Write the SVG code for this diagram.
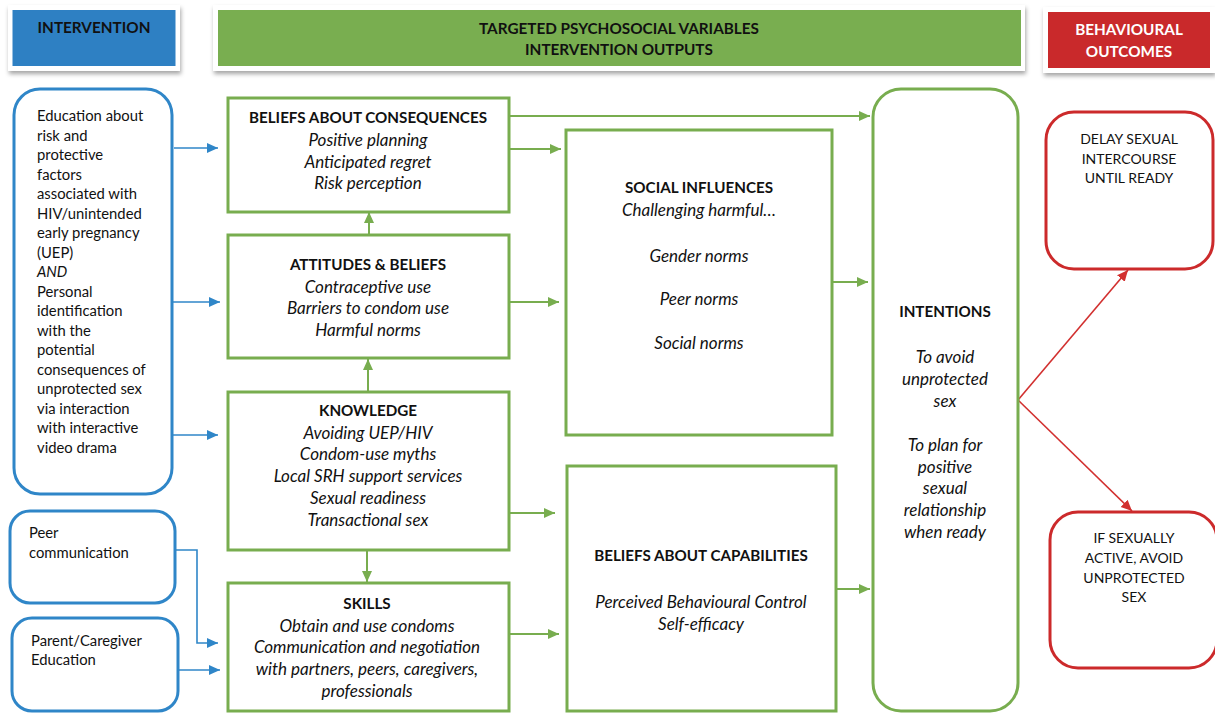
<svg xmlns="http://www.w3.org/2000/svg" width="1215" height="713" viewBox="0 0 1215 713">
<style>
text{font-family:Lato,"Open Sans","Liberation Sans",sans-serif;fill:#111;}
.b{font-weight:bold;font-size:15.2px;text-anchor:middle;}
.i{font-style:italic;font-size:17px;text-anchor:middle;}
.l{font-size:14.8px;}
.c{font-size:14px;text-anchor:middle;}
.h{font-weight:bold;font-size:15.3px;text-anchor:middle;}
.card{fill:#fff;filter:url(#sh);}
.gbox{fill:#fff;stroke:#78ad4f;stroke-width:3;}
.bbox{fill:#fff;stroke:#2f86c8;stroke-width:3;}
.rbox{fill:#fff;stroke:#cc2a2b;stroke-width:3;}
.ga{fill:none;stroke:#78ad4f;stroke-width:2;marker-end:url(#ag);}
.ba{fill:none;stroke:#2f86c8;stroke-width:1.6;marker-end:url(#ab);}
.ra{fill:none;stroke:#d2302f;stroke-width:1.6;marker-end:url(#ar);}
</style>
<defs>
<filter id="sh" x="-10%" y="-20%" width="120%" height="160%">
<feDropShadow dx="1" dy="3" stdDeviation="2" flood-color="#000" flood-opacity="0.35"/>
</filter>
<marker id="ag" markerUnits="userSpaceOnUse" markerWidth="12" markerHeight="12" viewBox="0 0 12 12" refX="11" refY="6" orient="auto"><path d="M0,1 L11,6 L0,11 Z" fill="#78ad4f"/></marker>
<marker id="ab" markerUnits="userSpaceOnUse" markerWidth="12" markerHeight="12" viewBox="0 0 12 12" refX="11" refY="6" orient="auto"><path d="M0,1 L11,6 L0,11 Z" fill="#2f86c8"/></marker>
<marker id="ar" markerUnits="userSpaceOnUse" markerWidth="12" markerHeight="12" viewBox="0 0 12 12" refX="11" refY="6" orient="auto"><path d="M0,1 L11,6 L0,11 Z" fill="#d2302f"/></marker>
</defs>
<rect width="1215" height="713" fill="#fff"/>

<g id="header-intervention">
<rect class="card" x="8" y="5" width="172" height="66"/>
<rect x="12.5" y="10" width="163" height="56" fill="#2e80c3"/>
<text class="h" x="94" y="33">INTERVENTION</text>
</g>
<g id="header-targeted">
<rect class="card" x="213" y="5" width="812" height="66"/>
<rect x="218" y="10" width="803" height="56" fill="#79ae50"/>
<text class="h" x="619" y="34">TARGETED PSYCHOSOCIAL VARIABLES</text>
<text class="h" x="619" y="55">INTERVENTION OUTPUTS</text>
</g>
<g id="header-behavioural">
<rect class="card" x="1043" y="7" width="172" height="66"/>
<rect x="1048" y="12" width="162" height="56" fill="#c9292b"/>
<text class="h" x="1129" y="35" style="fill:#fff">BEHAVIOURAL</text>
<text class="h" x="1129" y="57" style="fill:#fff">OUTCOMES</text>
</g>

<g id="connectors">
<path class="ba" d="M174,148 H218"/>
<path class="ba" d="M168,302 H220"/>
<path class="ba" d="M173,435 H218"/>
<path class="ba" d="M176,550 H197 V643 H218"/>
<path class="ba" d="M179,670 H220"/>
<path class="ga" d="M509,116 H870"/>
<path class="ga" d="M509,149 H561"/>
<path class="ga" d="M509,302 H559"/>
<path class="ga" d="M509,513 H555"/>
<path class="ga" d="M509,634 H559"/>
<path class="ga" d="M369,235 V212"/>
<path class="ga" d="M368,392 V359"/>
<path class="ga" d="M367,550 V582"/>
<path class="ga" d="M832,282 H868"/>
<path class="ga" d="M836,589 H870"/>
<path class="ra" d="M1018,400 L1128,270"/>
<path class="ra" d="M1018,400 L1132,511"/>
</g>

<g id="education">
<rect class="bbox" x="14" y="89" width="158" height="405" rx="26"/>
<text class="l" x="37" y="121">Education about<tspan x="37" dy="19.53">risk and</tspan><tspan x="37" dy="19.53">protective</tspan><tspan x="37" dy="19.53">factors</tspan><tspan x="37" dy="19.53">associated with</tspan><tspan x="37" dy="19.53">HIV/unintended</tspan><tspan x="37" dy="19.53">early pregnancy</tspan><tspan x="37" dy="19.53">(UEP)</tspan><tspan x="37" dy="19.53" font-style="italic">AND</tspan><tspan x="37" dy="19.53">Personal</tspan><tspan x="37" dy="19.53">identification</tspan><tspan x="37" dy="19.53">with the</tspan><tspan x="37" dy="19.53">potential</tspan><tspan x="37" dy="19.53">consequences of</tspan><tspan x="37" dy="19.53">unprotected sex</tspan><tspan x="37" dy="19.53">via interaction</tspan><tspan x="37" dy="19.53">with interactive</tspan><tspan x="37" dy="19.53">video drama</tspan></text>
</g>
<g id="peer">
<rect class="bbox" x="10" y="511" width="165" height="92" rx="20"/>
<text class="l" x="29" y="538">Peer</text>
<text class="l" x="29" y="558">communication</text>
</g>
<g id="parent">
<rect class="bbox" x="12" y="618" width="166" height="93" rx="20"/>
<text class="l" x="31" y="646">Parent/Caregiver</text>
<text class="l" x="31" y="665">Education</text>
</g>

<g id="beliefs-consequences">
<rect class="gbox" x="228" y="98" width="281" height="114"/>
<text class="b" x="368" y="123">BELIEFS ABOUT CONSEQUENCES</text>
<text class="i" x="368" y="146">Positive planning</text>
<text class="i" x="368" y="168">Anticipated regret</text>
<text class="i" x="368" y="189">Risk perception</text>
</g>
<g id="attitudes">
<rect class="gbox" x="228" y="235" width="281" height="123"/>
<text class="b" x="368" y="270">ATTITUDES &amp; BELIEFS</text>
<text class="i" x="368" y="293">Contraceptive use</text>
<text class="i" x="368" y="314">Barriers to condom use</text>
<text class="i" x="368" y="336">Harmful norms</text>
</g>
<g id="knowledge">
<rect class="gbox" x="228" y="392" width="281" height="158"/>
<text class="b" x="368" y="416">KNOWLEDGE</text>
<text class="i" x="368" y="439">Avoiding UEP/HIV</text>
<text class="i" x="368" y="460">Condom-use myths</text>
<text class="i" x="368" y="482">Local SRH support services</text>
<text class="i" x="368" y="504">Sexual readiness</text>
<text class="i" x="368" y="526">Transactional sex</text>
</g>
<g id="skills">
<rect class="gbox" x="228" y="583" width="281" height="128"/>
<text class="b" x="367" y="609">SKILLS</text>
<text class="i" x="367" y="632">Obtain and use condoms</text>
<text class="i" x="367" y="653">Communication and negotiation</text>
<text class="i" x="367" y="675">with partners, peers, caregivers,</text>
<text class="i" x="367" y="697">professionals</text>
</g>
<g id="social-influences">
<rect class="gbox" x="566" y="130" width="266" height="305"/>
<text class="b" x="699" y="193">SOCIAL INFLUENCES</text>
<text class="i" x="699" y="216">Challenging harmful…</text>
<text class="i" x="699" y="262">Gender norms</text>
<text class="i" x="699" y="305">Peer norms</text>
<text class="i" x="699" y="349">Social norms</text>
</g>
<g id="beliefs-capabilities">
<rect class="gbox" x="567" y="466" width="269" height="245"/>
<text class="b" x="701" y="561">BELIEFS ABOUT CAPABILITIES</text>
<text class="i" x="701" y="608">Perceived Behavioural Control</text>
<text class="i" x="701" y="630">Self-efficacy</text>
</g>
<g id="intentions">
<rect class="gbox" x="873" y="89" width="145" height="622" rx="28"/>
<text class="b" x="945" y="317">INTENTIONS</text>
<text class="i" x="945" y="363">To avoid</text>
<text class="i" x="945" y="385">unprotected</text>
<text class="i" x="945" y="407">sex</text>
<text class="i" x="945" y="451">To plan for</text>
<text class="i" x="945" y="473">positive</text>
<text class="i" x="945" y="494">sexual</text>
<text class="i" x="945" y="516">relationship</text>
<text class="i" x="945" y="538">when ready</text>
</g>
<g id="delay">
<rect class="rbox" x="1046" y="112" width="167" height="157" rx="28"/>
<text class="c" x="1129" y="144">DELAY SEXUAL</text>
<text class="c" x="1129" y="164">INTERCOURSE</text>
<text class="c" x="1129" y="183">UNTIL READY</text>
</g>
<g id="if-active">
<rect class="rbox" x="1050" y="512" width="167" height="156" rx="28"/>
<text class="c" x="1134" y="543">IF SEXUALLY</text>
<text class="c" x="1134" y="563">ACTIVE, AVOID</text>
<text class="c" x="1134" y="583">UNPROTECTED</text>
<text class="c" x="1134" y="602">SEX</text>
</g>
</svg>
